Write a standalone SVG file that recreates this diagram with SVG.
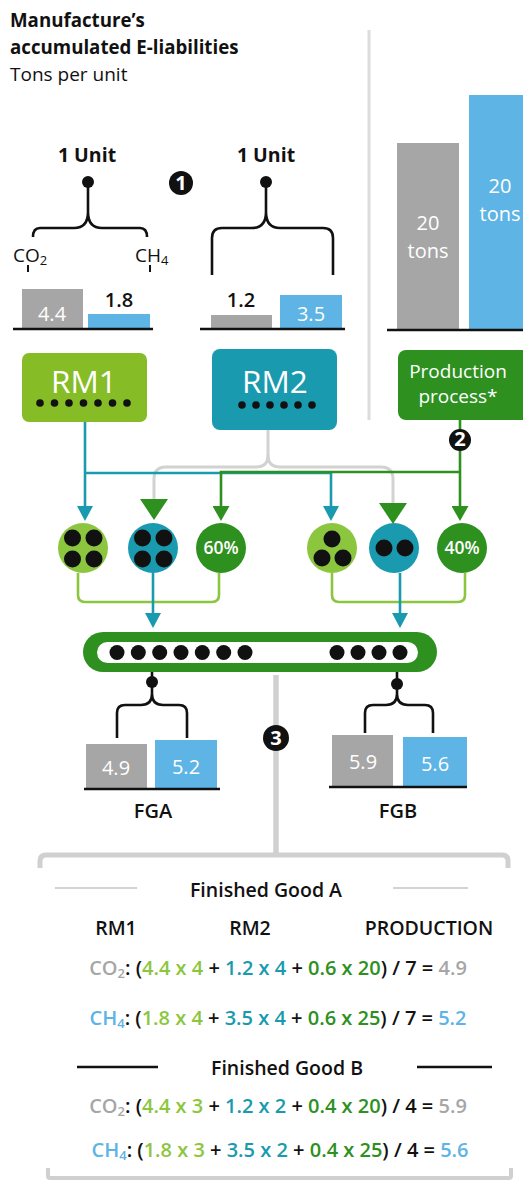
<svg xmlns="http://www.w3.org/2000/svg" width="523" height="1180" viewBox="0 0 523 1180">
<style>
text{font-family:"Open Sans","Liberation Sans",sans-serif}
.b{font-weight:bold}
.sb{font-weight:600}
.wt{fill:#fff}
.blk{fill:#111}
.lime{fill:#8cc63f}
.teal{fill:#1a9aae}
.grn{fill:#2e901f}
.gry{fill:#a6a6a6}
.blu{fill:#5db4e5}
.br{fill:none;stroke:#111;stroke-width:2.6;stroke-linecap:butt}
.base{stroke:#111;stroke-width:2.5}
.ct{stroke:#1a9aae;stroke-width:2.6;fill:none}
.cg{stroke:#2e901f;stroke-width:2.6;fill:none}
.cl{stroke:#8cc63f;stroke-width:2.6;fill:none}
.cy{stroke:#d2d2d2;stroke-width:3;fill:none}
.num{font-size:20px;text-anchor:middle}
.f{font-size:20px;text-anchor:middle;font-weight:600}
.h{font-size:19.5px;text-anchor:middle;font-weight:600}
</style>
<defs>
<marker id="at" viewBox="0 0 15 16" refX="0" refY="8" markerWidth="15" markerHeight="16" markerUnits="userSpaceOnUse" orient="auto"><path d="M0,0 L15,8 L0,16 z" fill="#1a9aae"/></marker>
<marker id="ag" viewBox="0 0 15 17" refX="0" refY="8.5" markerWidth="15" markerHeight="17" markerUnits="userSpaceOnUse" orient="auto"><path d="M0,0 L15,8.5 L0,17 z" fill="#2e901f"/></marker>
<marker id="agb" viewBox="0 0 21 28" refX="0" refY="14" markerWidth="21" markerHeight="28" markerUnits="userSpaceOnUse" orient="auto"><path d="M0,0 L21,14 L0,28 z" fill="#2e901f"/></marker>
</defs>

<g id="title">
<text x="10" y="27" class="b blk" font-size="18.7">Manufacture’s</text>
<text x="10" y="54" class="b blk" font-size="18.7">accumulated E-liabilities</text>
<text x="10" y="81" class="blk" font-size="19">Tons per unit</text>
</g>

<line id="divider" x1="369" y1="30" x2="369" y2="420" stroke="#dcdcdc" stroke-width="3"/>

<g id="production-bars">
<rect x="397" y="143" width="62" height="186" fill="#a6a6a6"/>
<rect x="469" y="95" width="60" height="234" fill="#5db4e5"/>
<line x1="387" y1="330" x2="523" y2="330" class="base"/>
<text x="428" y="230" class="num wt" font-size="19">20</text>
<text x="428" y="258" class="num wt" font-size="19">tons</text>
<text x="500" y="193" class="num wt" font-size="19">20</text>
<text x="500" y="221" class="num wt" font-size="19">tons</text>
</g>

<g id="rm1-unit">
<text x="87" y="162" class="b blk" font-size="19.5" text-anchor="middle">1 Unit</text>
<circle cx="88" cy="182" r="6" fill="#111"/>
<path class="br" d="M88,186 V212 Q88,228 74,228 H40 Q33,228 33,237 M88,212 Q88,228 102,228 H140 Q147,228 147,237"/>
<text x="13" y="262" class="blk" font-size="19">CO<tspan font-size="13" dy="3">2</tspan></text>
<text x="135" y="262" class="blk" font-size="19">CH<tspan font-size="13" dy="3">4</tspan></text>
<line x1="28" y1="265" x2="28" y2="272" stroke="#111" stroke-width="2"/>
<line x1="150" y1="265" x2="150" y2="272" stroke="#111" stroke-width="2"/>
<rect x="22" y="289" width="61" height="39" fill="#a6a6a6"/>
<rect x="88" y="314" width="62" height="14" fill="#5db4e5"/>
<line x1="13" y1="329" x2="153" y2="329" class="base"/>
<text x="52" y="321" class="num wt">4.4</text>
<text x="119" y="307" class="num blk sb" font-size="21">1.8</text>
</g>

<g id="rm2-unit">
<text x="266" y="162" class="b blk" font-size="19.5" text-anchor="middle">1 Unit</text>
<circle cx="266" cy="182" r="6" fill="#111"/>
<path class="br" d="M266,186 V212 Q266,228 252,228 H222 Q212,228 212,238 V275 M266,212 Q266,228 280,228 H323 Q333,228 333,238 V275"/>
<rect x="211" y="315" width="61" height="13" fill="#a6a6a6"/>
<rect x="280" y="295" width="62" height="33" fill="#5db4e5"/>
<line x1="200" y1="329" x2="345" y2="329" class="base"/>
<text x="241" y="307" class="num blk sb" font-size="21">1.2</text>
<text x="311" y="321" class="num wt">3.5</text>
</g>

<g id="badge1">
<circle cx="181" cy="183" r="12" fill="#111"/>
<text x="181" y="189.5" class="num wt b" font-size="17">1</text>
</g>

<g id="connectors">
<path class="cy" d="M268,430 V455 Q268,467 256,467 H166 Q154,467 154,479 V499" marker-end="url(#agb)"/>
<path class="cy" d="M268,455 Q268,467 280,467 H381 Q393,467 393,479 V503" marker-end="url(#agb)"/>
<path class="ct" d="M85,422 V506" marker-end="url(#at)"/>
<path class="ct" d="M85,473 H331 V506" marker-end="url(#at)"/>
<path class="cg" d="M460,420 V506" marker-end="url(#ag)"/>
<path class="cg" d="M460,472 H221 V506" marker-end="url(#ag)"/>
<path class="cl" d="M78,573 V595 Q78,602 85,602 H153"/>
<path class="cl" d="M219,573 V595 Q219,602 212,602 H153"/>
<path class="cl" d="M332,573 V595 Q332,602 339,602 H400"/>
<path class="cl" d="M465,573 V595 Q465,602 458,602 H400"/>
<path class="ct" d="M153,573 V613" marker-end="url(#at)"/>
<path class="ct" d="M400,573 V613" marker-end="url(#at)"/>
</g>

<g id="rm1">
<rect x="22" y="353" width="125" height="69" rx="7" fill="#86bc25"/>
<text x="84" y="393" class="wt" font-size="31.5" text-anchor="middle">RM1</text>
<g fill="#111"><circle cx="40" cy="403" r="3.8"/><circle cx="54.5" cy="403" r="3.8"/><circle cx="69" cy="403" r="3.8"/><circle cx="83.5" cy="403" r="3.8"/><circle cx="98" cy="403" r="3.8"/><circle cx="112.5" cy="403" r="3.8"/><circle cx="127" cy="403" r="3.8"/></g>
</g>

<g id="rm2">
<rect x="212" y="349" width="125" height="81" rx="8" fill="#1a9aae"/>
<text x="275" y="393" class="wt" font-size="31.5" text-anchor="middle">RM2</text>
<g fill="#111"><circle cx="242" cy="405" r="3.8"/><circle cx="256" cy="405" r="3.8"/><circle cx="270" cy="405" r="3.8"/><circle cx="284" cy="405" r="3.8"/><circle cx="298" cy="405" r="3.8"/><circle cx="312" cy="405" r="3.8"/></g>
</g>

<g id="production">
<rect x="398" y="350" width="135" height="70" rx="8" fill="#2e901f"/>
<text x="458" y="378" class="wt" font-size="19" text-anchor="middle">Production</text>
<text x="458" y="403" class="wt" font-size="19" text-anchor="middle">process*</text>
</g>

<g id="badge2">
<circle cx="460" cy="440" r="11" fill="#111"/>
<text x="460" y="446" class="num wt b" font-size="16">2</text>
</g>

<g id="c1"><circle cx="83" cy="548" r="25" fill="#8cc63f"/><g fill="#111"><circle cx="72.5" cy="538" r="8.5"/><circle cx="94" cy="538" r="8.5"/><circle cx="72.5" cy="559" r="8.5"/><circle cx="94" cy="559" r="8.5"/></g></g>
<g id="c2"><circle cx="153" cy="548" r="25" fill="#1a9aae"/><g fill="#111"><circle cx="142.5" cy="538" r="8.5"/><circle cx="164" cy="538" r="8.5"/><circle cx="142.5" cy="559" r="8.5"/><circle cx="164" cy="559" r="8.5"/></g></g>
<g id="c3"><circle cx="221" cy="548" r="25" fill="#2e901f"/><text x="221" y="554" class="wt sb" font-size="17.5" text-anchor="middle">60%</text></g>
<g id="c4"><circle cx="332" cy="548" r="25" fill="#8cc63f"/><g fill="#111"><circle cx="332" cy="539" r="8.5"/><circle cx="322" cy="558" r="8.5"/><circle cx="343" cy="558" r="8.5"/></g></g>
<g id="c5"><circle cx="394" cy="548" r="25" fill="#1a9aae"/><g fill="#111"><circle cx="384" cy="548" r="8.5"/><circle cx="405" cy="548" r="8.5"/></g></g>
<g id="c6"><circle cx="462" cy="548" r="25" fill="#2e901f"/><text x="462" y="554" class="wt sb" font-size="17.5" text-anchor="middle">40%</text></g>

<g id="pill">
<rect x="83" y="632" width="354" height="40" rx="20" fill="#2e901f"/>
<rect x="97" y="642" width="321" height="21" rx="10.5" fill="#fff"/>
<g fill="#111">
<circle cx="117" cy="652.5" r="7.5"/><circle cx="138.3" cy="652.5" r="7.5"/><circle cx="159.7" cy="652.5" r="7.5"/><circle cx="181" cy="652.5" r="7.5"/><circle cx="202.3" cy="652.5" r="7.5"/><circle cx="223.7" cy="652.5" r="7.5"/><circle cx="245" cy="652.5" r="7.5"/>
<circle cx="337" cy="652.5" r="7.5"/><circle cx="358" cy="652.5" r="7.5"/><circle cx="379" cy="652.5" r="7.5"/><circle cx="400" cy="652.5" r="7.5"/>
</g>
</g>

<line id="center-line" x1="276" y1="675" x2="276" y2="856" stroke="#d0d0d0" stroke-width="5.5"/>

<g id="fga">
<circle cx="152" cy="682" r="6" fill="#111"/>
<path class="br" d="M152,672 V694 Q152,705 141,705 H125 Q117,705 117,713 V738 M152,694 Q152,705 163,705 H179 Q187,705 187,713 V738"/>
<rect x="86" y="744" width="61" height="44" fill="#a6a6a6"/>
<rect x="155" y="740" width="62" height="48" fill="#5db4e5"/>
<line x1="84" y1="789" x2="220" y2="789" class="base"/>
<text x="116" y="775" class="num wt">4.9</text>
<text x="186" y="774" class="num wt">5.2</text>
<text x="153" y="818" class="num blk sb" font-size="17">FGA</text>
</g>

<g id="fgb">
<circle cx="397" cy="684" r="6" fill="#111"/>
<path class="br" d="M397,672 V694 Q397,705 386,705 H373 Q365,705 365,713 V733 M397,694 Q397,705 408,705 H425 Q433,705 433,713 V733"/>
<rect x="332" y="735" width="61" height="51" fill="#a6a6a6"/>
<rect x="403" y="737" width="64" height="49" fill="#5db4e5"/>
<line x1="329" y1="787" x2="467" y2="787" class="base"/>
<text x="363" y="769" class="num wt">5.9</text>
<text x="435" y="771" class="num wt">5.6</text>
<text x="398" y="818" class="num blk sb" font-size="17">FGB</text>
</g>

<g id="badge3">
<circle cx="276" cy="738" r="13" fill="#111"/>
<text x="276" y="745" class="num wt b" font-size="18">3</text>
</g>

<g id="calc">
<path d="M40,868 V861 Q40,855 46,855 H502 Q508,855 508,861 V868" fill="none" stroke="#d0d0d0" stroke-width="5"/>
<path d="M48,1168 V1176 Q48,1178 50,1178 H509 Q511,1178 511,1176 V1168" fill="none" stroke="#d0d0d0" stroke-width="4"/>
<line x1="55" y1="888" x2="137" y2="888" stroke="#d3d3d3" stroke-width="2"/>
<line x1="393" y1="888" x2="468" y2="888" stroke="#d3d3d3" stroke-width="2"/>
<text x="266" y="897" class="h blk">Finished Good A</text>
<text x="116" y="935" class="h blk">RM1</text>
<text x="250" y="935" class="h blk">RM2</text>
<text x="429" y="935" class="h blk" font-size="19">PRODUCTION</text>
<text x="278" y="975" class="f blk"><tspan class="gry">CO<tspan font-size="13" dy="3">2</tspan></tspan><tspan dy="-3">: (</tspan><tspan class="lime">4.4 x 4</tspan> + <tspan class="teal">1.2 x 4</tspan> + <tspan class="grn">0.6 x 20</tspan>) / 7 = <tspan class="gry">4.9</tspan></text>
<text x="278" y="1025" class="f blk"><tspan class="blu">CH<tspan font-size="13" dy="3">4</tspan></tspan><tspan dy="-3">: (</tspan><tspan class="lime">1.8 x 4</tspan> + <tspan class="teal">3.5 x 4</tspan> + <tspan class="grn">0.6 x 25</tspan>) / 7 = <tspan class="blu">5.2</tspan></text>
<line x1="77" y1="1067" x2="158" y2="1067" stroke="#111" stroke-width="2.5"/>
<line x1="417" y1="1067" x2="492" y2="1067" stroke="#111" stroke-width="2.5"/>
<text x="287" y="1075" class="h blk">Finished Good B</text>
<text x="278" y="1113" class="f blk"><tspan class="gry">CO<tspan font-size="13" dy="3">2</tspan></tspan><tspan dy="-3">: (</tspan><tspan class="lime">4.4 x 3</tspan> + <tspan class="teal">1.2 x 2</tspan> + <tspan class="grn">0.4 x 20</tspan>) / 4 = <tspan class="gry">5.9</tspan></text>
<text x="280" y="1157" class="f blk"><tspan class="blu">CH<tspan font-size="13" dy="3">4</tspan></tspan><tspan dy="-3">: (</tspan><tspan class="lime">1.8 x 3</tspan> + <tspan class="teal">3.5 x 2</tspan> + <tspan class="grn">0.4 x 25</tspan>) / 4 = <tspan class="blu">5.6</tspan></text>
</g>
</svg>
